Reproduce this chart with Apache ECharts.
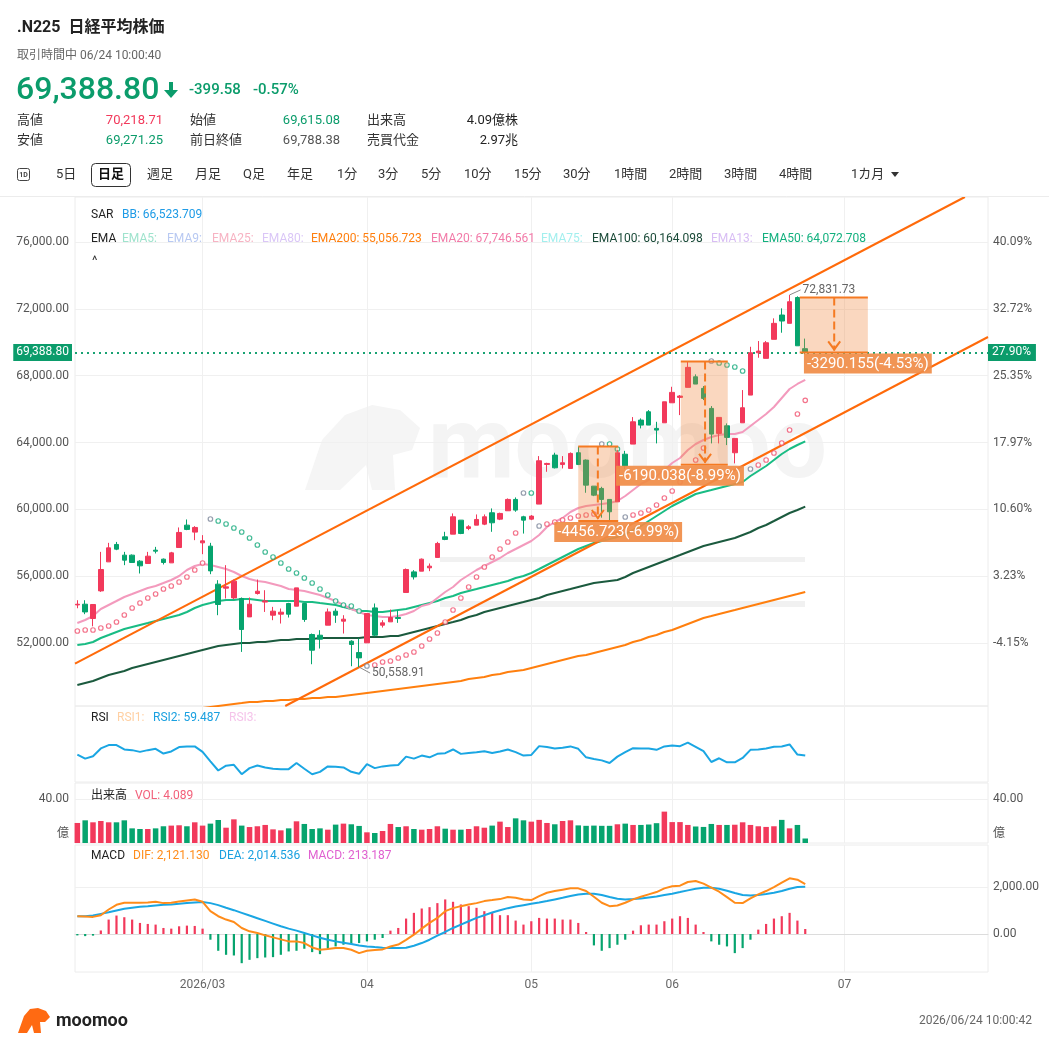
<!DOCTYPE html>
<html>
<head>
<meta charset="utf-8">
<title>.N225 日経平均株価</title>
<script src="https://cdn.jsdelivr.net/npm/echarts@6/dist/echarts.min.js"></script>
<style>
html,body{margin:0;padding:0;background:#fff;}
#main{width:1049px;height:1047px;}
</style>
</head>
<body>
<div id="main"></div>
<script>
// 日足データ（2026/02 中旬〜06/24）
var candleOpen = [54280,54323,53466,55120,56856,57898,57258,57258,56898,56760,
57557,57018,56796,57715,59054,58637,57994,57797,55521,55282,
54700,54665,53563,54963,54450,53665,53725,54365,54203,54365,
52508,52467,53066,53905,53306,52108,51430,52010,54100,53066,
53266,53525,55024,56257,56300,56500,57120,58355,58515,59354,
58856,59054,59114,59794,59414,59914,60593,59554,59414,60313,
62687,63246,62687,62447,63386,62947,61389,61250,60593,60450,
63300,63904,65342,65840,64844,65180,66377,66700,67300,67934,
67240,66040,64545,65000,63386,65180,66838,69370,69035,70174,
71629,71131,72679,69615.08];
var candleClose = [54320,53860,54305,56400,57695,57617,56958,56820,56618,57197,
57497,56820,57395,58617,58797,58916,58114,56317,54305,55360,
55700,52808,54323,55100,54520,53905,53845,53725,55300,53406,
51569,52228,53860,53665,53426,51910,51110,53765,52467,53206,
53525,53465,56400,55957,57018,56600,57958,58198,59554,58556,
58956,59394,59554,59195,59754,60593,59953,59354,59594,62906,
62747,62487,62787,63346,62687,61449,60850,60593,59854,63386,
62600,65240,65042,65042,64743,66437,67000,66780,68497,67497,
66640,64503,65502,64305,64245,66080,69370,69470,69970,71131,
71270,72425,69788.38,69388.80];
var candleLow = [54080,53725,53000,55060,56856,57557,56659,56800,56160,56760,
57360,56700,56796,57715,58754,58155,57317,56120,53665,54665,
54622,51467,53563,54900,53860,53365,53166,53525,54203,53266,
50730,51670,53066,53206,52568,50610,50558.91,52010,52407,52927,
53266,53206,55024,55800,56300,56300,57120,58155,58515,58515,
58754,59054,59054,58655,59354,59914,59854,58550,59354,60313,
62247,62447,62447,62447,62647,60992,60790,59500,59301,60450,
62400,63904,64844,65042,63946,65180,66377,65640,67300,67497,
66539,63946,63946,63844,62750,65180,66838,69072,69035,70174,
70570,71131,69788.38,69271.25];
var candleHigh = [54560,54560,54305,57455,57994,58050,57455,57300,56960,57455,
57754,57058,57455,58916,59394,58994,58455,57994,55760,56659,
55800,54725,54725,55800,55160,54163,54065,54404,55300,54365,
52568,52767,54065,54065,53665,52168,52268,53765,54365,53365,
54005,53965,56460,56360,57058,56760,58055,58655,59754,59354,
59054,59694,59694,60054,59800,60653,60713,59614,59654,63186,
62787,63386,63186,63406,63758,62986,61389,61350,60593,63545,
63500,65521,65443,65940,65240,66437,67335,66840,68855,68078,
67377,66180,65502,65143,64245,67138,69730,70072,70072,71431,
72030,72831.73,72750,70218.71];
// 出来高（億株）
var volume = [18.2,20.6,18.8,20.0,18.8,18.8,20.6,13.3,12.7,12.7,
13.3,15.2,15.8,16.1,15.2,18.8,15.8,17.6,20.9,13.9,
21.5,15.8,14.5,15.2,16.4,12.4,11.5,13.3,19.7,17.3,
12.7,13.3,12.1,16.7,17.6,17.0,15.5,9.7,9.1,10.9,
17.3,14.5,15.2,12.7,12.1,12.7,15.2,13.0,12.1,12.1,
12.7,15.2,13.9,15.8,19.4,14.5,22.4,20.6,19.4,21.0,
18.2,17.0,20.0,20.6,16.0,15.6,15.8,15.6,15.6,17.0,
17.6,16.4,16.4,16.8,18.0,28.5,19.0,19.0,16.4,15.0,
14.6,17.3,16.4,16.4,16.6,18.8,16.4,15.2,14.6,15.2,
21.0,13.3,16.4,4.089];
var ema20 = [53197,53377,53616,54035,54275,54514,54754,54933,55113,55292,
55412,55591,55771,56010,56369,56609,56729,56669,56549,56429,
56250,56010,55831,55711,55651,55532,55412,55232,55172,55113,
54993,54873,54694,54514,54275,54035,53856,53676,53616,53557,
53557,53616,53736,53916,54215,54335,54694,55053,55352,55771,
56070,56369,56609,56848,57088,57387,57626,57866,58105,58464,
58943,59242,59482,59841,60080,60200,60260,60320,60379,60499,
60798,61157,61517,61756,61995,62354,62773,63073,63551,63911,
64150,64330,64449,64509,64509,64629,64988,65347,65706,66125,
66664,67202,67502,67746.561];
var ema50 = [51881,51941,52060,52300,52479,52659,52838,52958,53078,53197,
53317,53437,53557,53676,53856,54095,54275,54394,54514,54574,
54574,54634,54634,54574,54514,54514,54514,54514,54514,54454,
54454,54394,54335,54275,54155,54035,53916,53916,53856,53856,
53916,53975,54035,54155,54275,54394,54514,54694,54813,54993,
55113,55232,55352,55472,55591,55711,55891,56010,56190,56429,
56669,56908,57148,57387,57626,57806,57985,58105,58225,58345,
58524,58763,59003,59302,59601,59901,60200,60439,60679,60918,
61038,61157,61277,61397,61517,61636,61995,62295,62594,62953,
63312,63611,63851,64072.708];
var ema100 = [49487,49606,49726,49906,50085,50205,50325,50504,50624,50744,
50863,50983,51103,51222,51342,51462,51581,51701,51821,51881,
51941,52000,52000,52060,52060,52120,52180,52180,52240,52240,
52240,52300,52300,52300,52300,52300,52300,52360,52360,52360,
52419,52419,52539,52659,52778,52898,53018,53138,53257,53377,
53557,53676,53856,53975,54095,54215,54335,54454,54574,54694,
54873,54993,55113,55232,55352,55472,55591,55651,55711,55771,
55951,56190,56369,56549,56729,56908,57088,57267,57447,57626,
57806,57926,58045,58165,58285,58464,58644,58883,59063,59302,
59542,59781,59960,60164.098];
var ema200 = [47392,47452,47512,47572,47631,47691,47751,47811,47871,47931,
47931,47990,47990,48050,48050,48110,48110,48170,48230,48290,
48350,48409,48469,48469,48529,48529,48589,48589,48649,48649,
48709,48709,48769,48769,48828,48888,48948,49008,49068,49128,
49187,49247,49307,49367,49427,49487,49547,49606,49666,49726,
49846,49906,49966,50085,50145,50265,50325,50384,50504,50624,
50744,50863,50983,51103,51222,51282,51402,51522,51641,51761,
51881,52060,52180,52360,52479,52659,52778,52958,53138,53317,
53497,53616,53736,53856,53975,54095,54215,54335,54454,54574,
54694,54813,54933,55056.723];
var sar = [52719,52778,52778,52898,53018,53257,53676,54095,54394,54694,
54933,55232,55412,55651,55951,56369,56788,59422,59302,59123,
58883,58644,58285,57866,57447,57148,56788,56429,56190,55891,
55591,55232,54873,54514,54275,54215,53916,50624,50684,50863,
50923,51103,51282,51462,51821,52240,52599,53257,53975,54694,
55352,55951,56549,57148,57626,58045,58584,60978,60978,59003,
59123,59242,59362,59482,59601,59661,59721,63911,63911,63611,
59542,59661,59781,59960,60260,60679,61098,61636,62235,62953,
63671,68878,68758,68639,68519,68280,62414,62654,62953,63372,
63970,64748,65706,66523.709];
var rsi2 = [60.6,56.3,58.8,67.0,70.5,70.5,65.9,65.2,63.4,65.2,
66.6,61.6,63.8,68.4,69.1,69.1,63.4,53.5,43.9,48.9,
49.9,40.0,46.4,49.2,47.1,45.7,45.3,45.3,51.7,45.7,
40.0,42.5,48.2,47.8,47.1,42.5,40.4,50.6,46.4,48.2,
49.2,49.6,58.4,56.3,59.5,57.7,61.3,62.0,65.9,61.3,
62.3,63.1,64.1,62.3,63.8,65.9,63.1,59.5,60.2,69.4,
68.4,67.0,67.7,69.1,66.6,57.7,56.0,54.5,51.7,58.4,
63.1,67.3,67.0,67.0,65.5,69.1,70.1,69.4,73.0,68.7,
64.1,52.8,56.7,52.4,52.4,57.0,65.5,65.9,67.0,68.7,
69.1,71.2,60.6,59.487];
var dif = [757,743,728,800,1042,1242,1328,1328,1328,1342,
1371,1314,1328,1385,1428,1471,1371,971,757,614,
514,257,114,43,-57,-143,-228,-314,-314,-386,
-571,-671,-643,-600,-600,-671,-814,-714,-685,-657,
-530,-450,-250,-29,228,471,685,971,1100,1185,
1257,1314,1400,1442,1485,1571,1542,1471,1442,1614,
1757,1828,1885,1942,1942,1828,1585,1328,1185,1214,
1328,1471,1585,1685,1785,1942,2028,2056,2213,2256,
2142,1971,1799,1571,1328,1314,1514,1685,1828,1999,
2185,2370,2313,2121.130];
var dea = [757,757,785,857,928,1000,1071,1114,1157,1185,
1214,1242,1257,1285,1314,1342,1357,1314,1228,1114,
1014,900,785,671,557,443,328,228,143,43,
-57,-157,-243,-314,-371,-428,-486,-528,-557,-585,
-600,-600,-585,-500,-386,-243,-71,86,257,400,
543,685,800,914,1014,1100,1171,1228,1285,1342,
1400,1471,1542,1614,1685,1714,1714,1657,1571,1500,
1471,1485,1514,1557,1600,1657,1714,1785,1857,1928,
1971,1971,1928,1842,1742,1657,1642,1657,1700,1757,
1828,1928,1999,2014.536];
var macdHist = [-60,-90,-70,150,614,785,714,614,471,428,
400,257,228,328,357,343,228,-243,-714,-885,
-914,-1242,-1099,-1028,-1000,-985,-885,-742,-714,-628,
-771,-857,-628,-528,-457,-428,-386,-314,-243,-171,
143,257,657,900,1085,1142,1314,1471,1371,1257,
1185,1114,971,900,800,800,571,400,543,685,
657,657,614,614,471,86,-485,-714,-600,-457,
-243,143,371,400,400,543,657,757,685,400,
86,-314,-457,-528,-814,-600,-243,186,428,657,
757,900,571,213.187];

var monthStarts = [16, 37, 58, 76, 98];
var monthLabels = ['2026/03', '04', '05', '06', '07'];
var priceTicks = [52000, 56000, 60000, 64000, 68000, 72000, 76000];
var pctBase = 54250.2;
// 描画ツール（トレンドライン・値幅計測）
var trendUpper = [[-0.3, 50762], [113.4, 78693]];
var trendLower = [[26.56, 48230], [116.35, 70314]];
var rangeBoxes = [
  [64.0, 69.1, 63758, 59301.277, 66.5, 69.1],
  [77.1, 83.1, 68855, 62664.962, 80.2, 77.0],
  [92.3, 101.0, 72678.955, 69388.80, 96.7, 101.0]
];

var FONT = 'Roboto, "Noto Sans CJK JP", sans-serif';
var UP = '#f2395b', DOWN = '#06a46e';
var N = candleClose.length;
var last = N - 1;
var lastPrice = candleClose[last];

function fmt(v, d) {
  return v.toLocaleString('en-US', {minimumFractionDigits: d, maximumFractionDigits: d});
}
function pairs(arr) {
  return arr.map(function (v, i) { return [i, v]; });
}
function isUp(i) { return candleClose[i] >= candleOpen[i]; }
function pctText(v, floor) {
  var p = (v / pctBase - 1) * 100;
  if (floor) p = Math.floor(p * 100) / 100;
  return p.toFixed(2) + '%';
}

var ohlc = [];
for (var i = 0; i < N; i++) ohlc.push([i, candleOpen[i], candleClose[i], candleLow[i], candleHigh[i]]);

// 高値・安値の位置
var hiIdx = 0, loIdx = 0;
for (var k = 0; k < N; k++) {
  if (candleHigh[k] > candleHigh[hiIdx]) hiIdx = k;
  if (candleLow[k] < candleLow[loIdx]) loIdx = k;
}
var extremes = [[hiIdx, candleHigh[hiIdx], 1], [loIdx, candleLow[loIdx], -1]];

// SAR の色
var sarData = sar.map(function (v, i) {
  var below = v < candleClose[i];
  var prevBelow = i > 0 ? sar[i - 1] < candleClose[i - 1] : below;
  var c = below ? '#f0506e' : '#13a97a';
  if (below !== prevBelow) c = '#7a8599';
  return {value: [i, v], itemStyle: {borderColor: c}};
});

function gtext(x, y, s, color, size, weight, align) {
  return {type: 'text', x: x, y: y, silent: true, z: 100,
    style: {text: s, fill: color, fontSize: size, fontWeight: weight || 'normal',
      fontFamily: FONT, align: align || 'left', verticalAlign: 'middle'}};
}

var xBase = {type: 'value', min: -0.3, max: 116.35,
  axisLine: {show: false}, axisTick: {show: false, customValues: monthStarts},
  axisLabel: {show: false, customValues: monthStarts},
  splitLine: {show: true, lineStyle: {color: '#f0f0f0'}}};
function xAxisFor(g, showLabel) {
  var a = JSON.parse(JSON.stringify(xBase));
  a.gridIndex = g;
  if (showLabel) {
    a.axisLine = {show: true, lineStyle: {color: '#dcdcdc'}};
    a.axisLabel = {show: true, customValues: monthStarts, color: '#666', fontSize: 12, margin: 7,
      fontFamily: FONT,
      formatter: function (v) { var j = monthStarts.indexOf(Math.round(v)); return j >= 0 ? monthLabels[j] : ''; }};
  }
  return a;
}

function renderRangeBox(params, api) {
  var s = api.value(0), e = api.value(1), top = api.value(2), bot = api.value(3);
  var ax = api.value(4), lx = api.value(5);
  var p1 = api.coord([s, top]), p2 = api.coord([e, bot]);
  var x1 = Math.min(p1[0], p2[0]), x2 = Math.max(p1[0], p2[0]);
  var yt = p1[1], yb = p2[1];
  var xa = api.coord([ax, top])[0];
  var xl = api.coord([lx, bot])[0];
  var diff = bot - top;
  var txt = diff.toFixed(3) + '(' + (diff / top * 100).toFixed(2) + '%)';
  var orange = '#f57a22';
  return {type: 'group', children: [
    {type: 'rect', shape: {x: x1, y: yt, width: x2 - x1, height: yb - yt}, style: {fill: 'rgba(240,135,60,0.33)'}},
    {type: 'line', shape: {x1: x1, y1: yt, x2: x2, y2: yt}, style: {stroke: orange, lineWidth: 2}},
    {type: 'line', shape: {x1: x1, y1: yb, x2: x2, y2: yb}, style: {stroke: orange, lineWidth: 2}},
    {type: 'line', shape: {x1: xa, y1: yt, x2: xa, y2: yb - 2}, style: {stroke: orange, lineWidth: 2, lineDash: [8, 4]}},
    {type: 'polyline', shape: {points: [[xa - 6, yb - 11], [xa, yb - 3], [xa + 6, yb - 11]]}, style: {stroke: orange, lineWidth: 2, fill: null}},
    {type: 'text', x: xl, y: yb + 1, style: {text: txt, fill: '#fff', backgroundColor: 'rgba(240,140,70,0.92)',
      padding: [3, 3, 2, 3], fontSize: 15, fontFamily: FONT, align: 'center', verticalAlign: 'top'}}
  ]};
}

function renderExtreme(params, api) {
  var p = api.coord([api.value(0), api.value(1)]);
  var dir = api.value(2);
  var tx = p[0] + 11, ty = p[1] + (dir > 0 ? -5 : 6);
  return {type: 'group', children: [
    {type: 'line', shape: {x1: p[0], y1: p[1], x2: tx, y2: ty}, style: {stroke: '#8a8a8a', lineWidth: 1}},
    {type: 'text', x: tx + 2, y: ty, style: {text: fmt(api.value(1), 2), fill: '#666', fontSize: 12,
      fontFamily: FONT, verticalAlign: 'middle'}}
  ]};
}

var graphics = [
  // 透かし
  {type: 'polygon', silent: true, z: 0, shape: {points: [[305, 490], [322, 440], [345, 415], [372, 405], [400, 410], [420, 428], [412, 450], [393, 455], [395, 490], [372, 490], [366, 465], [340, 490]]}, style: {fill: '#f5f5f5'}},
  {type: 'text', x: 428, y: 452, silent: true, z: 0, style: {text: 'moomoo', fill: '#f4f4f4', fontSize: 100, fontWeight: 'bold', fontFamily: FONT, verticalAlign: 'middle'}},
  {type: 'rect', shape: {x: 440, y: 557, width: 365, height: 5}, silent: true, z: 0, style: {fill: '#f1f1f1'}},
  {type: 'rect', shape: {x: 440, y: 601, width: 365, height: 6}, silent: true, z: 0, style: {fill: '#f1f1f1'}},
  // ヘッダー
  gtext(17, 28, '.N225  日経平均株価', '#222', 16, 'bold'),
  gtext(17, 56, '取引時間中 06/24 10:00:40', '#666', 12),
  gtext(16, 91, fmt(lastPrice, 2), '#0b9c6b', 32, 500),
  {type: 'polygon', silent: true, z: 100, shape: {points: [[169, 82], [173, 82], [173, 90], [178, 90], [171, 98], [164, 90], [169, 90]]}, style: {fill: '#0b9c6b'}},
  gtext(189, 90, (lastPrice - candleClose[last - 1]).toFixed(2), '#0b9c6b', 15, 500),
  gtext(253, 90, ((lastPrice / candleClose[last - 1] - 1) * 100).toFixed(2) + '%', '#0b9c6b', 15, 500),
  gtext(17, 121, '高値', '#333', 13), gtext(163, 121, fmt(candleHigh[last], 2), '#f2395b', 13, 'normal', 'right'),
  gtext(190, 121, '始値', '#333', 13), gtext(340, 121, fmt(candleOpen[last], 2), '#0b9c6b', 13, 'normal', 'right'),
  gtext(367, 121, '出来高', '#333', 13), gtext(518, 121, '4.09億株', '#222', 13, 'normal', 'right'),
  gtext(17, 141, '安値', '#333', 13), gtext(163, 141, fmt(candleLow[last], 2), '#0b9c6b', 13, 'normal', 'right'),
  gtext(190, 141, '前日終値', '#333', 13), gtext(340, 141, fmt(candleClose[last - 1], 2), '#555', 13, 'normal', 'right'),
  gtext(367, 141, '売買代金', '#333', 13), gtext(518, 141, '2.97兆', '#222', 13, 'normal', 'right'),
  // ツールバー
  {type: 'rect', silent: true, z: 100, shape: {x: 17.5, y: 168.5, width: 12, height: 12, r: 2}, style: {fill: null, stroke: '#444', lineWidth: 1}},
  gtext(23.5, 175, '1D', '#444', 7, 'bold', 'center'),
  {type: 'rect', silent: true, z: 100, shape: {x: 91.5, y: 163.5, width: 39, height: 23, r: 4}, style: {fill: null, stroke: '#333', lineWidth: 1}},
  gtext(56, 175, '5日', '#333', 13), gtext(111, 175, '日足', '#111', 13, 'bold', 'center'),
  gtext(147, 175, '週足', '#333', 13), gtext(195, 175, '月足', '#333', 13), gtext(243, 175, 'Q足', '#333', 13),
  gtext(287, 175, '年足', '#333', 13), gtext(337, 175, '1分', '#333', 13), gtext(378, 175, '3分', '#333', 13),
  gtext(421, 175, '5分', '#333', 13), gtext(464, 175, '10分', '#333', 13), gtext(514, 175, '15分', '#333', 13),
  gtext(563, 175, '30分', '#333', 13), gtext(614, 175, '1時間', '#333', 13), gtext(669, 175, '2時間', '#333', 13),
  gtext(724, 175, '3時間', '#333', 13), gtext(779, 175, '4時間', '#333', 13), gtext(851, 175, '1カ月', '#333', 13),
  {type: 'polygon', silent: true, z: 100, shape: {points: [[891, 172], [899, 172], [895, 177]]}, style: {fill: '#333'}},
  {type: 'line', silent: true, z: 100, shape: {x1: 0, y1: 196.5, x2: 1049, y2: 196.5}, style: {stroke: '#ececec', lineWidth: 1}},
  // 指標の凡例
  gtext(91, 215, 'SAR', '#222', 12), gtext(122, 215, 'BB: ' + fmt(sar[last], 3), '#1e9be6', 12),
  gtext(91, 239, 'EMA', '#222', 12),
  gtext(122, 239, 'EMA5:', '#9fe3cd', 12), gtext(167, 239, 'EMA9:', '#b8c9f2', 12),
  gtext(212, 239, 'EMA25:', '#f7b3c3', 12), gtext(262, 239, 'EMA80:', '#dac6f7', 12),
  gtext(311, 239, 'EMA200: ' + fmt(ema200[last], 3), '#ff7f0e', 12),
  gtext(431, 239, 'EMA20: ' + fmt(ema20[last], 3), '#f27aa8', 12),
  gtext(541, 239, 'EMA75:', '#a3efee', 12),
  gtext(592, 239, 'EMA100: ' + fmt(ema100[last], 3), '#1a4a38', 12),
  gtext(711, 239, 'EMA13:', '#d8bdf4', 12),
  gtext(762, 239, 'EMA50: ' + fmt(ema50[last], 3), '#12b07e', 12),
  gtext(92, 262, '^', '#333', 13),
  gtext(91, 718, 'RSI', '#222', 12), gtext(117, 718, 'RSI1:', '#ffd0a3', 12),
  gtext(153, 718, 'RSI2: ' + fmt(rsi2[last], 3), '#1aa0e0', 12), gtext(229, 718, 'RSI3:', '#f5c4ea', 12),
  gtext(91, 796, '出来高', '#222', 12), gtext(135, 796, 'VOL: ' + fmt(volume[last], 3), '#f2607a', 12),
  gtext(91, 856, 'MACD', '#222', 12), gtext(133, 856, 'DIF: ' + fmt(dif[last], 3), '#ff8c1a', 12),
  gtext(219, 856, 'DEA: ' + fmt(dea[last], 3), '#1aa0e0', 12), gtext(308, 856, 'MACD: ' + fmt(macdHist[last], 3), '#e060d0', 12),
  // フッター
  {type: 'polygon', silent: true, z: 100, shape: {points: [[18, 1033], [24, 1016], [30, 1009], [38, 1008], [46, 1011], [50, 1017], [45, 1022], [40, 1022], [41, 1033], [34, 1033], [32, 1025], [27, 1033]]}, style: {fill: '#ff6a12'}},
  gtext(56, 1021, 'moomoo', '#222', 18, 'bold'),
  gtext(1032, 1021, '2026/06/24 10:00:42', '#666', 12, 'normal', 'right')
];

var option = {
  animation: false,
  backgroundColor: '#fff',
  textStyle: {fontFamily: FONT},
  graphic: graphics,
  grid: [
    {left: 75, right: 61, top: 197, height: 509, show: true, borderColor: '#ececec', borderWidth: 1},
    {left: 75, right: 61, top: 706, height: 76, show: true, borderColor: '#ececec', borderWidth: 1},
    {left: 75, right: 61, top: 783, height: 60, show: true, borderColor: '#ececec', borderWidth: 1},
    {left: 75, right: 61, top: 845, height: 127, show: true, borderColor: '#ececec', borderWidth: 1}
  ],
  xAxis: [xAxisFor(0), xAxisFor(1), xAxisFor(2), xAxisFor(3, true)],
  yAxis: [
    {type: 'value', gridIndex: 0, min: 48230, max: 78693, position: 'left',
      axisLine: {show: false}, axisTick: {show: false, customValues: priceTicks},
      axisLabel: {customValues: priceTicks, color: '#555', fontSize: 12, margin: 6,
        formatter: function (v) { return fmt(v, 2); }},
      splitLine: {show: true, lineStyle: {color: '#f0f0f0'}}},
    {type: 'value', gridIndex: 0, min: 48230, max: 78693, position: 'right',
      axisLine: {show: false}, axisTick: {show: false, customValues: priceTicks},
      axisLabel: {customValues: priceTicks, color: '#555', fontSize: 12, margin: 5,
        formatter: function (v) { return pctText(v); }},
      splitLine: {show: false}},
    {type: 'value', gridIndex: 1, min: 31.86, max: 111.4, axisLine: {show: false}, axisTick: {show: false},
      axisLabel: {show: false}, splitLine: {show: false}},
    {type: 'value', gridIndex: 2, min: 0, max: 54.5, position: 'left',
      axisLine: {show: false}, axisTick: {show: false, customValues: [40]},
      axisLabel: {customValues: [8, 40], color: '#555', fontSize: 12, margin: 6,
        formatter: function (v) { return v >= 40 ? '40.00' : '億'; }},
      splitLine: {show: true, lineStyle: {color: '#f0f0f0'}}},
    {type: 'value', gridIndex: 2, min: 0, max: 54.5, position: 'right',
      axisLine: {show: false}, axisTick: {show: false, customValues: [40]},
      axisLabel: {customValues: [8, 40], color: '#555', fontSize: 12, margin: 5,
        formatter: function (v) { return v >= 40 ? '40.00' : '億'; }},
      splitLine: {show: false}},
    {type: 'value', gridIndex: 3, min: -1617, max: 3787, position: 'right',
      axisLine: {show: false}, axisTick: {show: false, customValues: [0, 2000]},
      axisLabel: {customValues: [0, 2000], color: '#555', fontSize: 12, margin: 5,
        formatter: function (v) { return fmt(v, 2); }},
      splitLine: {show: true, lineStyle: {color: '#f0f0f0'}}}
  ],
  series: [
    {type: 'line', name: 'EMA200', xAxisIndex: 0, yAxisIndex: 0, data: pairs(ema200), showSymbol: false, z: 3,
      lineStyle: {color: '#ff7f0e', width: 2}},
    {type: 'line', name: 'EMA100', xAxisIndex: 0, yAxisIndex: 0, data: pairs(ema100), showSymbol: false, z: 3,
      lineStyle: {color: '#1b5a3e', width: 2}},
    {type: 'line', name: 'EMA50', xAxisIndex: 0, yAxisIndex: 0, data: pairs(ema50), showSymbol: false, z: 3,
      lineStyle: {color: '#19bc84', width: 2}},
    {type: 'line', name: 'EMA20', xAxisIndex: 0, yAxisIndex: 0, data: pairs(ema20), showSymbol: false, z: 3,
      lineStyle: {color: '#f39abd', width: 2}},
    {type: 'line', name: 'trendUpper', xAxisIndex: 0, yAxisIndex: 0, data: trendUpper, showSymbol: false, z: 4,
      lineStyle: {color: '#ff6a0a', width: 2}},
    {type: 'line', name: 'trendLower', xAxisIndex: 0, yAxisIndex: 0, data: trendLower, showSymbol: false, z: 4,
      lineStyle: {color: '#ff6a0a', width: 2}},
    {type: 'scatter', name: 'SAR', xAxisIndex: 0, yAxisIndex: 0, data: sarData, symbol: 'circle', symbolSize: 4.5, z: 4,
      itemStyle: {color: '#fff', borderWidth: 1.2}},
    {type: 'candlestick', name: '.N225', xAxisIndex: 0, yAxisIndex: 0, data: ohlc, encode: {x: 0, y: [1, 2, 3, 4]},
      barWidth: 5, z: 5,
      itemStyle: {color: UP, color0: DOWN, borderColor: UP, borderColor0: DOWN, borderWidth: 1},
      markLine: {silent: true, symbol: ['none', 'none'], animation: false,
        lineStyle: {color: '#0b9c6b', type: [2, 4], width: 1.5},
        data: [
          {yAxis: lastPrice, label: {show: true, position: 'start', distance: 3, formatter: fmt(lastPrice, 2),
            color: '#fff', backgroundColor: '#0b9c6b', padding: [3, 3, 2, 3], fontSize: 12}},
          {yAxis: lastPrice, label: {show: true, position: 'end', distance: 0,
            formatter: pctText(lastPrice, true),
            color: '#fff', backgroundColor: '#0b9c6b', padding: [3, 5, 2, 4], fontSize: 12}}
        ]}},
    {type: 'custom', name: 'ranges', xAxisIndex: 0, yAxisIndex: 0, data: rangeBoxes, renderItem: renderRangeBox, z: 6, silent: true},
    {type: 'custom', name: 'extremes', xAxisIndex: 0, yAxisIndex: 0, data: extremes, renderItem: renderExtreme, z: 6, silent: true},
    {type: 'line', name: 'RSI2', xAxisIndex: 1, yAxisIndex: 2, data: pairs(rsi2), showSymbol: false,
      lineStyle: {color: '#1aa6e3', width: 2}},
    {type: 'bar', name: 'VOL', xAxisIndex: 2, yAxisIndex: 3, data: pairs(volume), barWidth: 5.5,
      itemStyle: {color: function (p) { return isUp(p.dataIndex) ? UP : DOWN; }}},
    {type: 'bar', name: 'MACD', xAxisIndex: 3, yAxisIndex: 5, data: pairs(macdHist), barWidth: 2.2,
      itemStyle: {color: function (p) { return p.value[1] >= 0 ? UP : DOWN; }}},
    {type: 'line', name: 'DEA', xAxisIndex: 3, yAxisIndex: 5, data: pairs(dea), showSymbol: false,
      lineStyle: {color: '#1aa6e3', width: 2}},
    {type: 'line', name: 'DIF', xAxisIndex: 3, yAxisIndex: 5, data: pairs(dif), showSymbol: false,
      lineStyle: {color: '#ff8c1a', width: 2}}
  ]
};

var chart = echarts.init(document.getElementById('main'), null, {renderer: 'canvas'});
chart.setOption(option);
</script>
</body>
</html>
